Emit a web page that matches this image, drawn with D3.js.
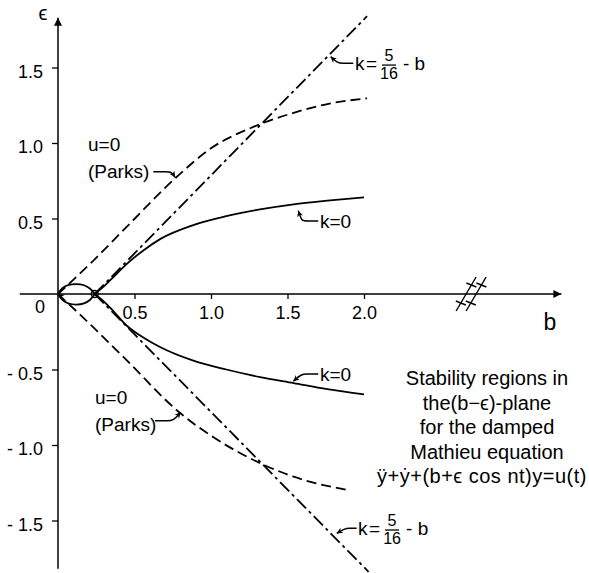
<!DOCTYPE html>
<html>
<head>
<meta charset="utf-8">
<script src="https://cdn.jsdelivr.net/npm/d3@7"></script>
<style>
  body { margin: 0; background: #fff; }
  svg { display: block; font-family: "Liberation Sans", Arial, sans-serif; }
</style>
</head>
<body>
<div id="chart"></div>
<script>
// tick values and labels
const xTicks = [0.5, 1.0, 1.5, 2.0];
const xTickLabels = ["0.5", "1.0", "1.5", "2.0"];
const yTicks = [1.5, 1.0, 0.5, -0.5, -1.0, -1.5];
const yTickLabels = ["1.5", "1.0", "0.5", "- 0.5", "- 1.0", "- 1.5"];

// u=0 (Parks) boundary, [b, eps]
const parksUpper = [[0, 0], [0.23, 0.22], [0.45, 0.446], [0.77, 0.77], [1.0, 0.965], [1.28, 1.108], [1.54, 1.20], [1.76, 1.258], [2.02, 1.296]];
const parksLower = [[0, 0], [0.23, -0.22], [0.45, -0.44], [0.80, -0.79], [1.0, -0.938], [1.32, -1.12], [1.54, -1.21], [1.90, -1.30]];

// k=0 boundary
const kZeroUpper = [[0.24, 0], [0.30, 0.05], [0.35, 0.10], [0.45, 0.20], [0.56, 0.29], [0.67, 0.365], [0.88, 0.455], [1.10, 0.515], [1.32, 0.56], [1.54, 0.594], [1.76, 0.618], [2.0, 0.64]];
const kZeroLower = [[0.24, 0], [0.30, -0.05], [0.35, -0.10], [0.45, -0.21], [0.56, -0.29], [0.67, -0.353], [0.88, -0.44], [1.10, -0.50], [1.32, -0.55], [1.54, -0.59], [1.76, -0.63], [2.0, -0.665]];

// k = 5/16 - b lines
const kLineUpper = [[0.24, 0], [2.02, 1.84]];
const kLineLower = [[0.24, 0], [2.03, -1.84]];

// small lens near origin
const lensUpper = [[0, 0], [0.03, 0.04], [0.07, 0.06], [0.12, 0.066], [0.17, 0.058], [0.21, 0.035], [0.24, 0]];
const lensLower = [[0, 0], [0.03, -0.04], [0.07, -0.063], [0.12, -0.07], [0.17, -0.062], [0.21, -0.038], [0.24, 0]];

const captionLines = ["Stability regions in", "the(b\u2212\u03f5)-plane", "for the damped", "Mathieu equation", "\u00ff+\u1e8f+(b+\u03f5 cos nt)y=u(t)"];

var width = 589, height = 573;

var svg = d3.select("#chart")
    .append("svg")
    .attr("width", width)
    .attr("height", height);

svg.append("rect").attr("width", width).attr("height", height).attr("fill", "#fff");

var x = d3.scaleLinear().domain([0, 2]).range([58, 364]);
var y = d3.scaleLinear().domain([0, 1.5]).range([294, 67.5]);

var defs = svg.append("defs");
defs.append("marker")
    .attr("id", "axisArrow")
    .attr("viewBox", "0 0 10 10")
    .attr("refX", 10).attr("refY", 5)
    .attr("markerWidth", 11).attr("markerHeight", 8)
    .attr("markerUnits", "userSpaceOnUse")
    .attr("orient", "auto")
    .append("path").attr("d", "M0,0 L10,5 L0,10 z").attr("fill", "#000");
defs.append("marker")
    .attr("id", "leadArrow")
    .attr("viewBox", "0 0 10 10")
    .attr("refX", 10).attr("refY", 5)
    .attr("markerWidth", 8).attr("markerHeight", 6)
    .attr("markerUnits", "userSpaceOnUse")
    .attr("orient", "auto")
    .append("path").attr("d", "M0,0 L10,5 L0,10 L3,5 z").attr("fill", "#000");

// axes lines with arrows
svg.append("line")
    .attr("x1", x(-0.25)).attr("y1", y(0))
    .attr("x2", x(3.29)).attr("y2", y(0))
    .attr("stroke", "#000").attr("stroke-width", 1.5)
    .attr("marker-end", "url(#axisArrow)");
svg.append("line")
    .attr("x1", x(0)).attr("y1", y(-1.82))
    .attr("x2", x(0)).attr("y2", y(1.83))
    .attr("stroke", "#000").attr("stroke-width", 1.5)
    .attr("marker-end", "url(#axisArrow)");

// axis break marks on b axis
var bBreak = 2.7;
[-5, 5].forEach(function(off){
    var cx = x(bBreak) + off, cy = y(0);
    svg.append("line")
        .attr("x1", cx - 10).attr("y1", cy + 17)
        .attr("x2", cx + 10).attr("y2", cy - 17)
        .attr("stroke", "#000").attr("stroke-width", 1.4);
    [-9, 9].forEach(function(dy){
        var px = cx - dy * 10 / 17, py = cy + dy;
        svg.append("line")
            .attr("x1", px - 5).attr("y1", py - 2)
            .attr("x2", px + 5).attr("y2", py + 2)
            .attr("stroke", "#000").attr("stroke-width", 1.4);
    });
});

// ticks via d3 axes
var xAxis = svg.append("g")
    .attr("transform", `translate(0, ${y(0)})`)
    .call(d3.axisBottom(x).tickValues(xTicks).tickSize(5).tickPadding(7)
        .tickFormat(function(d, i){ return xTickLabels[i]; }));
var yAxis = svg.append("g")
    .attr("transform", `translate(${x(0)}, 0)`)
    .call(d3.axisLeft(y).tickValues(yTicks).tickSize(6).tickPadding(9)
        .tickFormat(function(d, i){ return yTickLabels[i]; }));
[xAxis, yAxis].forEach(function(g){
    g.select(".domain").remove();
    g.selectAll(".tick line").attr("stroke", "#000").attr("stroke-width", 1.3);
    g.selectAll(".tick text")
        .attr("fill", "#000")
        .style("font-family", "'Liberation Sans', Arial, sans-serif")
        .style("font-size", "18px");
});
yAxis.selectAll(".tick text").attr("dy", "0.55em");

svg.append("text").attr("x", 40).attr("y", 313).attr("text-anchor", "middle")
    .style("font-size", "18px").text("0");
svg.append("text").attr("x", 550).attr("y", 330).attr("text-anchor", "middle")
    .style("font-size", "23px").text("b");
svg.append("text").attr("x", 43).attr("y", 20).attr("text-anchor", "middle")
    .style("font-size", "20px").text("\u03f5");

// curves
var line = d3.line()
    .x(function(d){ return x(d[0]); })
    .y(function(d){ return y(d[1]); });

function drawCurve(data, curve, dash) {
    return svg.append("path")
        .datum(data)
        .attr("fill", "none")
        .attr("stroke", "#000")
        .attr("stroke-width", 1.8)
        .attr("stroke-dasharray", dash)
        .attr("d", line.curve(curve));
}

drawCurve(parksUpper, d3.curveMonotoneX, "10,5");
drawCurve(parksLower, d3.curveMonotoneX, "10,5");
drawCurve(kZeroUpper, d3.curveMonotoneX, null);
drawCurve(kZeroLower, d3.curveMonotoneX, null);
drawCurve(kLineUpper, d3.curveLinear, "13,4,3,4");
drawCurve(kLineLower, d3.curveLinear, "13,4,3,4");
drawCurve(lensUpper, d3.curveCatmullRom, null);
drawCurve(lensLower, d3.curveCatmullRom, null);

// arrow tip of lens at origin
svg.append("path")
    .datum([[0.05, -0.035], [0, 0]])
    .attr("fill", "none").attr("stroke", "none")
    .attr("d", line.curve(d3.curveLinear))
    .attr("marker-end", "url(#leadArrow)");

svg.append("circle")
    .attr("cx", x(0.24)).attr("cy", y(0)).attr("r", 3.5)
    .attr("fill", "none").attr("stroke", "#000").attr("stroke-width", 1.3);

// annotations: text anchor, leader start, leader tip (data coords), leader bend in px
var annotations = [
    { lines: ["u=0", "(Parks)"], at: [0.196, 0.947], from: [0.623, 0.81], dx: 13, tip: [0.765, 0.773] },
    { lines: ["u=0", "(Parks)"], at: [0.242, -0.728], from: [0.634, -0.839], dx: 13, tip: [0.802, -0.783] },
    { lines: ["k=0"], at: [1.712, 0.437], from: [1.701, 0.483], dx: -12, tip: [1.571, 0.552] },
    { lines: ["k=0"], at: [1.712, -0.576], from: [1.701, -0.530], dx: -12, tip: [1.538, -0.578] }
];

var leader = d3.line().curve(d3.curveBasis);

annotations.forEach(function(a){
    var t = svg.append("text")
        .attr("x", x(a.at[0])).attr("y", y(a.at[1]))
        .style("font-size", "19px");
    a.lines.forEach(function(s, i){
        t.append("tspan")
            .attr("x", x(a.at[0]))
            .attr("dy", i === 0 ? 0 : 27)
            .text(s);
    });
    var p0 = [x(a.from[0]), y(a.from[1])];
    var pts = [p0, [p0[0] + a.dx, p0[1]], [p0[0] + a.dx * 1.4, p0[1]], [x(a.tip[0]), y(a.tip[1])]];
    svg.append("path")
        .attr("d", leader(pts))
        .attr("fill", "none").attr("stroke", "#000").attr("stroke-width", 1.5)
        .attr("marker-end", "url(#leadArrow)");
});

// k = 5/16 - b labels
var kLineLabels = [
    { at: [1.941, 1.483], from: [1.930, 1.528], dx: -11, tip: [1.782, 1.572] },
    { at: [1.961, -1.596], from: [1.952, -1.552], dx: -8, tip: [1.822, -1.585] }
];
kLineLabels.forEach(function(a){
    var tx = x(a.at[0]), ty = y(a.at[1]);
    var g = svg.append("g").attr("transform", `translate(${tx}, ${ty})`);
    g.append("text").attr("x", 0).attr("y", 0).style("font-size", "19px").text("k");
    g.append("text").attr("x", 11).attr("y", 0).style("font-size", "19px").text("=");
    g.append("text").attr("x", 34).attr("y", -9).attr("text-anchor", "middle").style("font-size", "16px").text("5");
    g.append("line").attr("x1", 27).attr("x2", 41).attr("y1", -5).attr("y2", -5)
        .attr("stroke", "#000").attr("stroke-width", 1.3);
    g.append("text").attr("x", 34).attr("y", 9).attr("text-anchor", "middle").style("font-size", "16px").text("16");
    g.append("text").attr("x", 48).attr("y", 0).style("font-size", "19px").text("- b");
    var p0 = [x(a.from[0]), y(a.from[1])];
    var pts = [p0, [p0[0] + a.dx, p0[1]], [p0[0] + a.dx * 1.4, p0[1]], [x(a.tip[0]), y(a.tip[1])]];
    svg.append("path")
        .attr("d", leader(pts))
        .attr("fill", "none").attr("stroke", "#000").attr("stroke-width", 1.5)
        .attr("marker-end", "url(#leadArrow)");
});

// caption
var last = captionLines.length - 1;
svg.append("g").selectAll("text")
    .data(captionLines)
    .join("text")
    .attr("x", function(d, i){ return i === last ? 482 : 487; })
    .attr("y", function(d, i){ return 385 + i * 24.5; })
    .attr("text-anchor", "middle")
    .style("font-size", "20px")
    .style("letter-spacing", function(d, i){ return i === last ? "0.5px" : null; })
    .text(function(d){ return d; });
</script>
</body>
</html>
